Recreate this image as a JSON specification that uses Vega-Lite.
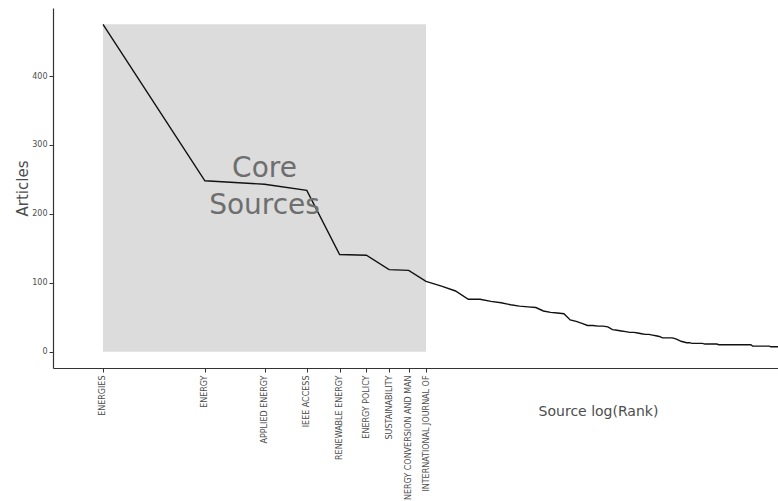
{
  "$schema": "https://vega.github.io/schema/vega-lite/v6.json",
  "width": 725,
  "height": 360,
  "autosize": {"type": "none"},
  "padding": {"left": 53, "top": 8, "right": 0, "bottom": 133},
  "background": "white",
  "config": {
    "view": {"stroke": null},
    "font": "DejaVu Sans",
    "axis": {"domainColor": "#333333", "domainWidth": 1.2, "tickColor": "#333333", "grid": false, "labelColor": "#4d4d4d", "titleColor": "#4d4d4d", "titleFontWeight": "normal", "labelFont": "DejaVu Sans", "titleFont": "DejaVu Sans"}
  },
  "encoding": {
    "x": {
      "field": "rank", "type": "quantitative",
      "scale": {"type": "log", "domain": [0.7117, 98.65], "nice": false, "zero": false},
      "axis": {
        "values": [1, 2, 3, 4, 5, 6, 7, 8, 9],
        "labelExpr": "['ENERGIES','ENERGY','APPLIED ENERGY','IEEE ACCESS','RENEWABLE ENERGY','ENERGY POLICY','SUSTAINABILITY','ENERGY CONVERSION AND MAN','INTERNATIONAL JOURNAL OF'][round(datum.value)-1]",
        "labelAngle": 270, "labelAlign": "right", "labelBaseline": "middle",
        "labelFontSize": 8, "labelOverlap": false, "labelFlush": false, "labelPadding": 3, "labelLimit": 400,
        "tickSize": 4,
        "title": "Source log(Rank)", "titleX": 545, "titleY": 43, "titleAlign": "center", "titleBaseline": "middle", "titleFontSize": 14
      }
    },
    "y": {
      "field": "articles", "type": "quantitative",
      "scale": {"domain": [-23.75, 498.75], "nice": false, "zero": false},
      "axis": {
        "values": [0, 100, 200, 300, 400],
        "labelFontSize": 8, "tickSize": 4, "labelPadding": 2,
        "title": "Articles", "titleX": -31, "titleY": 180, "titleAngle": 270, "titleAlign": "center", "titleBaseline": "middle", "titleFontSize": 15
      }
    }
  },
  "layer": [
    {
      "data": {"values": [{"rank": 1, "end": 9, "articles": 475, "bottom": 0}]},
      "mark": {"type": "rect", "color": "#dcdcdc"},
      "encoding": {"x2": {"field": "end"}, "y2": {"field": "bottom"}}
    },
    {
      "data": {"values": [
        {"rank": 1, "articles": 475}, {"rank": 2, "articles": 248}, {"rank": 3, "articles": 243}, {"rank": 4, "articles": 234},
        {"rank": 5, "articles": 141}, {"rank": 6, "articles": 140}, {"rank": 7, "articles": 119}, {"rank": 8, "articles": 118},
        {"rank": 9, "articles": 102}, {"rank": 10, "articles": 95}, {"rank": 11, "articles": 88}, {"rank": 12, "articles": 76},
        {"rank": 13, "articles": 76}, {"rank": 14, "articles": 73}, {"rank": 15, "articles": 71}, {"rank": 16, "articles": 68},
        {"rank": 17, "articles": 66}, {"rank": 18, "articles": 65}, {"rank": 19, "articles": 64}, {"rank": 20, "articles": 59},
        {"rank": 21, "articles": 57}, {"rank": 22, "articles": 56}, {"rank": 23, "articles": 55}, {"rank": 24, "articles": 46},
        {"rank": 25, "articles": 44}, {"rank": 26, "articles": 41}, {"rank": 27, "articles": 38}, {"rank": 28, "articles": 38},
        {"rank": 29, "articles": 37}, {"rank": 30, "articles": 37}, {"rank": 31, "articles": 36}, {"rank": 32, "articles": 32},
        {"rank": 33, "articles": 31}, {"rank": 34, "articles": 30}, {"rank": 35, "articles": 29}, {"rank": 36, "articles": 28},
        {"rank": 37, "articles": 28}, {"rank": 38, "articles": 27}, {"rank": 39, "articles": 26}, {"rank": 40, "articles": 25},
        {"rank": 41, "articles": 25}, {"rank": 42, "articles": 24}, {"rank": 43, "articles": 23}, {"rank": 44, "articles": 22},
        {"rank": 45, "articles": 20}, {"rank": 46, "articles": 20}, {"rank": 47, "articles": 20}, {"rank": 48, "articles": 20},
        {"rank": 49, "articles": 19}, {"rank": 50, "articles": 17}, {"rank": 51, "articles": 15}, {"rank": 52, "articles": 14},
        {"rank": 53, "articles": 13}, {"rank": 54, "articles": 13}, {"rank": 55, "articles": 12}, {"rank": 56, "articles": 12},
        {"rank": 57, "articles": 12}, {"rank": 58, "articles": 12}, {"rank": 59, "articles": 12}, {"rank": 60, "articles": 11},
        {"rank": 61, "articles": 11}, {"rank": 62, "articles": 11}, {"rank": 63, "articles": 11}, {"rank": 64, "articles": 11},
        {"rank": 65, "articles": 11}, {"rank": 66, "articles": 10}, {"rank": 67, "articles": 10}, {"rank": 68, "articles": 10},
        {"rank": 69, "articles": 10}, {"rank": 70, "articles": 10}, {"rank": 71, "articles": 10}, {"rank": 72, "articles": 10},
        {"rank": 73, "articles": 10}, {"rank": 74, "articles": 10}, {"rank": 75, "articles": 10}, {"rank": 76, "articles": 10},
        {"rank": 77, "articles": 10}, {"rank": 78, "articles": 10}, {"rank": 79, "articles": 10}, {"rank": 80, "articles": 10},
        {"rank": 81, "articles": 10}, {"rank": 82, "articles": 10}, {"rank": 83, "articles": 8}, {"rank": 84, "articles": 8},
        {"rank": 85, "articles": 8}, {"rank": 86, "articles": 8}, {"rank": 87, "articles": 8}, {"rank": 88, "articles": 8},
        {"rank": 89, "articles": 8}, {"rank": 90, "articles": 8}, {"rank": 91, "articles": 8}, {"rank": 92, "articles": 8},
        {"rank": 93, "articles": 8}, {"rank": 94, "articles": 7}, {"rank": 95, "articles": 7}, {"rank": 96, "articles": 7},
        {"rank": 97, "articles": 7}, {"rank": 98, "articles": 7}, {"rank": 99, "articles": 7}, {"rank": 100, "articles": 7}
      ]},
      "mark": {"type": "line", "color": "#111111", "strokeWidth": 1.4, "clip": true},
      "encoding": {}
    },
    {
      "data": {"values": [{"rank": 3, "articles": 237.5, "label": "Core\nSources"}]},
      "mark": {"type": "text", "fontSize": 28, "lineHeight": 37, "lineBreak": "\n", "color": "#6e6e6e", "align": "center", "baseline": "middle", "dy": -19, "font": "DejaVu Sans"},
      "encoding": {"text": {"field": "label"}}
    }
  ]
}
